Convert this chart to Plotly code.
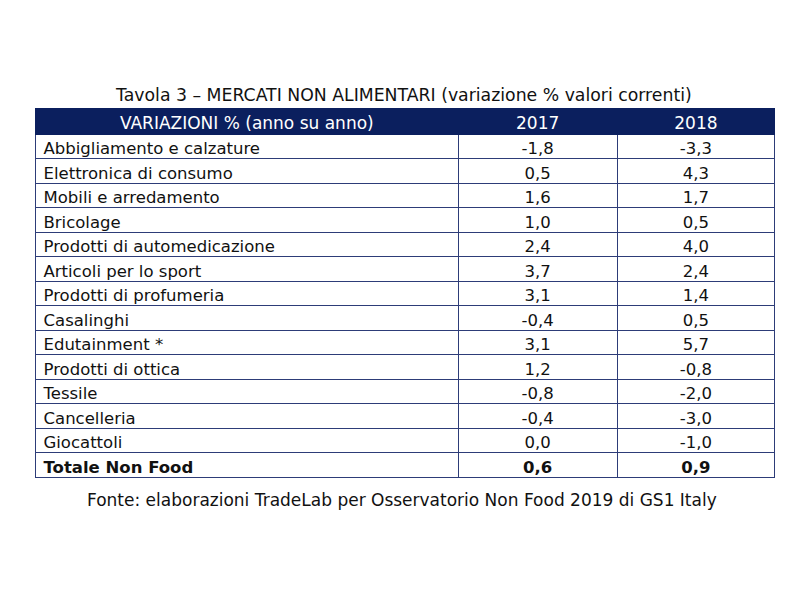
import plotly.graph_objects as go

categories = [
    "Abbigliamento e calzature", "Elettronica di consumo", "Mobili e arredamento",
    "Bricolage", "Prodotti di automedicazione", "Articoli per lo sport",
    "Prodotti di profumeria", "Casalinghi", "Edutainment *", "Prodotti di ottica",
    "Tessile", "Cancelleria", "Giocattoli",
]
v2017 = [-1.8, 0.5, 1.6, 1.0, 2.4, 3.7, 3.1, -0.4, 3.1, 1.2, -0.8, -0.4, 0.0]
v2018 = [-3.3, 4.3, 1.7, 0.5, 4.0, 2.4, 1.4, 0.5, 5.7, -0.8, -2.0, -3.0, -1.0]
total_label = "Totale Non Food"
total_2017 = 0.6
total_2018 = 0.9
headers = ["VARIAZIONI % (anno su anno)", "2017", "2018"]


def fmt(v):
    return f"{v:.1f}".replace(".", ",")


navy = "#0b1f5e"
grid = "#2d3c78"
font = "DejaVu Sans"
off = 8  # page body margin
x_dom = [(35.5 - off) / 800, (774.5 - off) / 800]
widths = [422, 159, 157]
row_h = 24.5
body_bottom = 134 + row_h * len(categories)

fig = go.Figure()
fig.add_trace(go.Table(
    domain=dict(x=x_dom, y=[1 - (body_bottom + 20 - off) / 600, 1 - (108 - off) / 600]),
    columnwidth=widths,
    header=dict(
        values=headers,
        fill_color=navy,
        line=dict(color=navy, width=1),
        align="center",
        font=dict(family=font, size=17, color="white"),
        height=26,
    ),
    cells=dict(
        values=[categories, [fmt(v) for v in v2017], [fmt(v) for v in v2018]],
        fill_color="white",
        line=dict(color=grid, width=1),
        align=["left", "center", "center"],
        font=dict(family=font, size=16.5, color="#111111"),
        height=row_h,
    ),
))

# total row, drawn bold as a one-row table below the body
fig.add_trace(go.Table(
    domain=dict(x=x_dom, y=[1 - (body_bottom + 40 - off) / 600, 1 - (body_bottom - off) / 600]),
    columnwidth=widths,
    header=dict(
        values=[total_label, fmt(total_2017), fmt(total_2018)],
        fill_color="white",
        line=dict(color=grid, width=1),
        align=["left", "center", "center"],
        font=dict(family=font, size=16.5, color="#111111", weight="bold"),
        height=row_h,
    ),
    cells=dict(values=[[], [], []], height=row_h, line=dict(width=0)),
))

fig.add_annotation(
    text="Tavola 3 – MERCATI NON ALIMENTARI (variazione % valori correnti)",
    x=(403 - off) / 800, y=1 - (95 - off) / 600, xref="paper", yref="paper",
    xanchor="center", yanchor="middle",
    showarrow=False, font=dict(family=font, size=17.3, color="#111111"),
)
fig.add_annotation(
    text="Fonte: elaborazioni TradeLab per Osservatorio Non Food 2019 di GS1 Italy",
    x=(402 - off) / 800, y=1 - (500 - off) / 600, xref="paper", yref="paper",
    xanchor="center", yanchor="middle",
    showarrow=False, font=dict(family=font, size=17, color="#111111"),
)

fig.update_layout(
    width=800, height=600,
    margin=dict(l=0, r=0, t=0, b=0),
    paper_bgcolor="white",
)
fig.write_html("out.html")
